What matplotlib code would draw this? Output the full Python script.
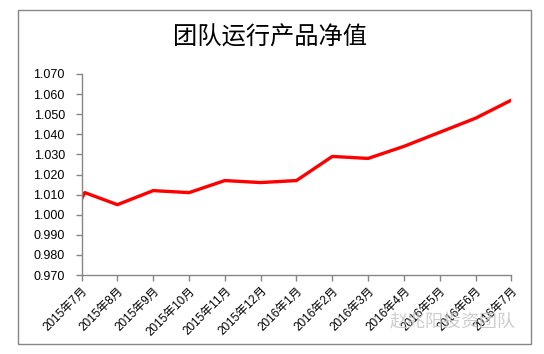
import matplotlib as mpl
mpl.use('Agg')
import matplotlib.pyplot as plt
import matplotlib.patches as mpatches
from matplotlib import rcParams

rcParams['font.family'] = ['Liberation Sans', 'Noto Sans CJK SC', 'DejaVu Sans']

# month labels on the category axis
months = ['2015年7月', '2015年8月', '2015年9月', '2015年10月', '2015年11月',
          '2015年12月', '2016年1月', '2016年2月', '2016年3月', '2016年4月',
          '2016年5月', '2016年6月', '2016年7月']
# net value series (month offset from 2015-07, value)
nav_month = [0, 0.09, 1, 2, 3, 4, 5, 6, 7, 8, 9, 10, 11, 12]
nav_value = [1.008, 1.011, 1.005, 1.012, 1.011, 1.017, 1.016, 1.017,
             1.029, 1.028, 1.034, 1.041, 1.048, 1.057]
y_ticks = [0.970, 0.980, 0.990, 1.000, 1.010, 1.020, 1.030, 1.040,
           1.050, 1.060, 1.070]

axis_grey = '#868686'

fig = plt.figure(figsize=(5.44, 3.54), dpi=100)
ax = fig.add_axes([0.150, 0.223, 0.790, 0.568])

ax.plot(nav_month, nav_value, color='#ff0000', lw=2.4, solid_joinstyle='round')

ax.set_xlim(0, len(months) - 1)
ax.set_ylim(y_ticks[0], y_ticks[-1])
ax.set_yticks(y_ticks)
ax.set_yticklabels(['%.3f' % v for v in y_ticks], fontsize=9)
ax.set_xticks(range(len(months)))
ax.set_xticklabels(months, rotation=45, ha='right', rotation_mode='anchor', fontsize=8.5)

for s in ['top', 'right']:
    ax.spines[s].set_visible(False)
for s in ['left', 'bottom']:
    ax.spines[s].set_color(axis_grey)
    ax.spines[s].set_linewidth(1.0)
ax.tick_params(axis='both', direction='out', length=4, width=1.0, color=axis_grey, labelcolor='black')
ax.tick_params(axis='y', pad=8)
ax.tick_params(axis='x', pad=3)

fig.text(0.497, 0.895, '团队运行产品净值', ha='center', va='center', fontsize=17.5,
         family=['Noto Sans CJK SC'], fontweight='medium')

# watermark
fig.text(0.947, 0.093, '赵兆阳投资团队', ha='right', va='center', fontsize=13,
         family=['Noto Sans CJK SC'], color='#c8c8c8', alpha=0.9)

# outer chart frame
fig.patches.append(mpatches.Rectangle((0.033, 0.028), 0.943, 0.943, transform=fig.transFigure,
                                      fill=False, edgecolor=axis_grey, lw=1.0))

plt.savefig('out.png', dpi=100)
